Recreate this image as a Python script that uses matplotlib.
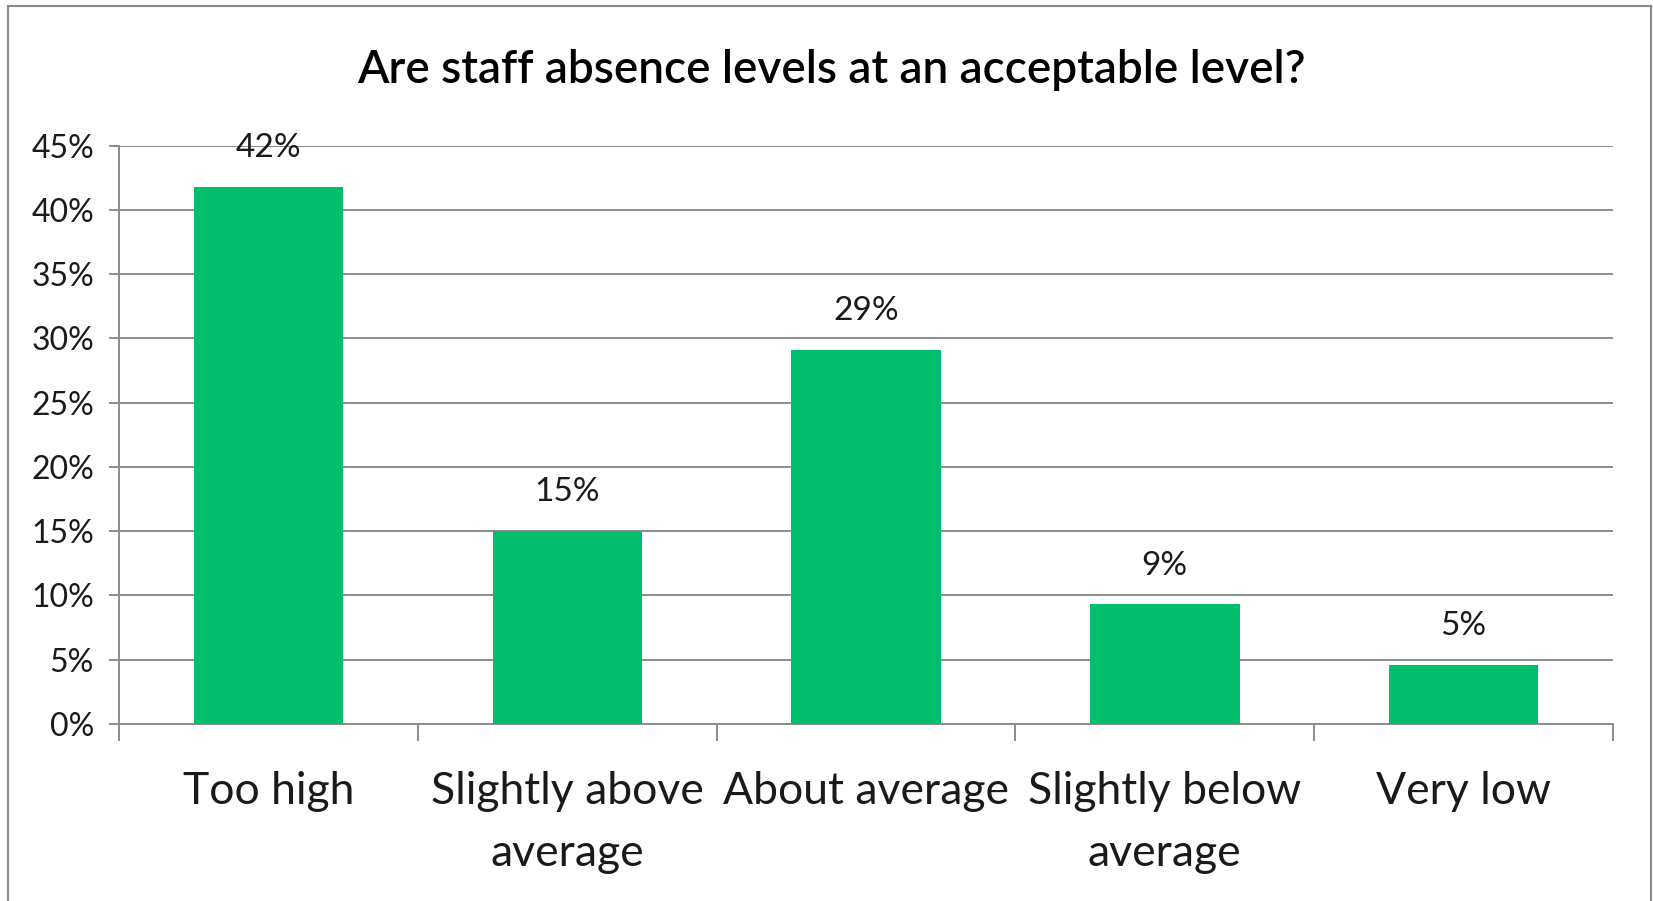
import matplotlib
matplotlib.use("Agg")
import matplotlib.pyplot as plt
from matplotlib.patches import Rectangle
from matplotlib.ticker import FixedLocator, FuncFormatter

# Survey responses
categories = ["Too high", "Slightly above\naverage", "About average",
              "Slightly below\naverage", "Very low"]
shares = [41.8, 15.0, 29.1, 9.3, 4.6]   # percent of respondents
yticks = [0, 5, 10, 15, 20, 25, 30, 35, 40, 45]
title = "Are staff absence levels at an acceptable level?"

bar_color = "#00BE6E"
grid_color = "#8c8c8c"
text_color = "#1a1a1a"
font = ["Lato", "DejaVu Sans"]

plt.rcParams["font.family"] = font

W, H, DPI = 1653, 901, 100
fig = plt.figure(figsize=(W / DPI, H / DPI), dpi=DPI)

# axes placed in pixel terms
left, right, top, bottom = 119, 1613, 145.5, 724
ax = fig.add_axes([left / W, 1 - bottom / H, (right - left) / W, (bottom - top) / H])

x = list(range(len(categories)))
ax.bar(x, shares, width=0.5, color=bar_color, zorder=3)

for xi, v in zip(x, shares):
    ax.annotate(f"{v:.0f}%", (xi, v), xytext=(0, 28), textcoords="offset points",
                ha="center", va="center", fontsize=24, color=text_color, zorder=4)

ax.set_xlim(-0.5, len(categories) - 0.5)
ax.set_ylim(0, 45)
ax.set_yticks(yticks)
ax.yaxis.set_major_formatter(FuncFormatter(lambda v, p: f"{v:.0f}%"))
ax.grid(axis="y", color=grid_color, linewidth=1.4, zorder=0)
ax.set_axisbelow(True)

ax.set_xticks(x)
ax.set_xticklabels(categories, fontsize=32, linespacing=1.62, color=text_color)
ax.xaxis.set_minor_locator(FixedLocator([i - 0.5 for i in range(len(categories) + 1)]))
ax.tick_params(axis="x", which="major", length=0, pad=34)
ax.tick_params(axis="x", which="minor", length=12, width=1.4, color=grid_color)
ax.tick_params(axis="y", length=7, width=1.4, color=grid_color, pad=11,
               labelsize=23, labelcolor=text_color)

for s in ["top", "right"]:
    ax.spines[s].set_visible(False)
for s in ["left", "bottom"]:
    ax.spines[s].set_color(grid_color)
    ax.spines[s].set_linewidth(1.4)

fig.text(831 / W, 1 - 70 / H, title, ha="center", va="center", fontsize=33,
         fontweight="semibold", color="#000000")

# chart-area frame
fig.patches.append(Rectangle((8 / W, -0.05), (1651 - 8) / W, 1.05 - 6 / H,
                             transform=fig.transFigure, fill=False,
                             edgecolor="#8a8a8a", linewidth=1.5))

fig.savefig("out.png", dpi=DPI, facecolor="white")
